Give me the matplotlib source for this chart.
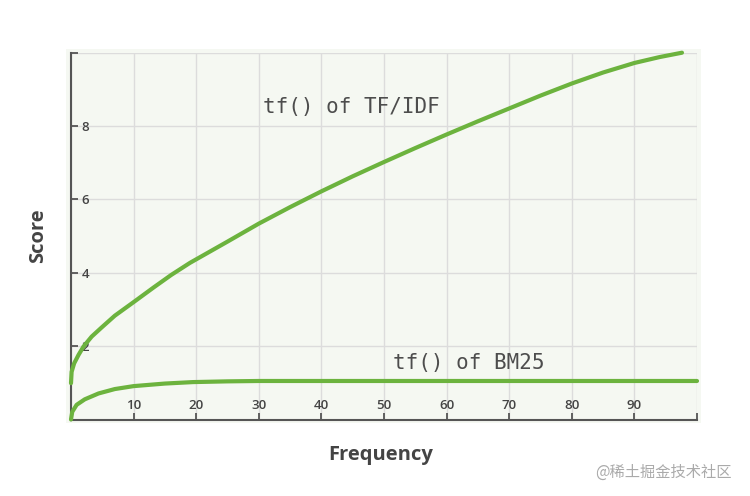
import matplotlib
matplotlib.use("Agg")
import matplotlib.pyplot as plt
from matplotlib.patches import Rectangle

# values
tfidf_freq = [0, 0.1, 0.5, 1.2, 2.0, 3.3, 4.9, 7.0, 10, 13.2, 16, 19, 25, 30, 35, 40, 45, 50,
              55, 60, 65, 70, 75, 80, 85, 90, 94, 97.6]
tfidf_score = [0.99, 1.30, 1.53, 1.76, 1.99, 2.26, 2.51, 2.83, 3.20, 3.60, 3.94, 4.27, 4.85, 5.34,
               5.79, 6.22, 6.63, 7.02, 7.40, 7.77, 8.13, 8.48, 8.83, 9.16, 9.46, 9.72, 9.88, 10.0]

bm25_freq = [0, 0.2, 0.9, 2.2, 4.4, 7.0, 10, 15, 19.5, 25, 30, 50, 70, 100]
bm25_score = [0.0, 0.21, 0.40, 0.55, 0.71, 0.83, 0.91, 0.98, 1.02, 1.04, 1.05, 1.05, 1.05, 1.05]

x_ticks = list(range(0, 101, 10))
x_labels = [""] + [str(v) for v in range(10, 100, 10)] + [""]
y_ticks = list(range(0, 11, 2))
y_labels = ["", "2", "4", "6", "8", ""]

green = "#6cb33e"
dark = "#444444"
bg = "#f5f8f2"

fig = plt.figure(figsize=(7.5, 4.96), dpi=100)
W, H = 750, 496
# light panel behind the plot, a bit larger than the axes
fig.patches.append(Rectangle((66 / W, 1 - 423 / H), (701 - 66) / W, (423 - 49) / H,
                             transform=fig.transFigure, facecolor=bg, edgecolor="none", zorder=-5))

ax = fig.add_axes([71 / W, 1 - 419.5 / H, 626 / W, 366.8 / H])
ax.set_facecolor(bg)
ax.set_xlim(0, 100)
ax.set_ylim(0, 10)

ax.grid(True, color="#dcdcdc", linewidth=1.0)
ax.set_axisbelow(True)

ax.plot(tfidf_freq, tfidf_score, color=green, linewidth=3.0, solid_capstyle="round",
        solid_joinstyle="round", clip_on=False, zorder=3)
ax.plot(bm25_freq, bm25_score, color=green, linewidth=3.0, solid_capstyle="round",
        solid_joinstyle="round", clip_on=False, zorder=3)

for s in ["top", "right"]:
    ax.spines[s].set_visible(False)
for s in ["left", "bottom"]:
    ax.spines[s].set_color("#555555")
    ax.spines[s].set_linewidth(1.5)

ax.set_xticks(x_ticks)
ax.set_xticklabels(x_labels)
ax.set_yticks(y_ticks)
ax.set_yticklabels(y_labels)
ax.tick_params(axis="both", direction="in", length=5, width=1.3, color="#555555",
               labelcolor=dark, labelsize=9.5)
ax.tick_params(axis="x", pad=-14.5)
ax.tick_params(axis="y", pad=-13)
for lab in ax.get_xticklabels() + ax.get_yticklabels():
    lab.set_family("Open Sans")
    lab.set_fontweight("semibold")

ax.text(30.7, 8.52, "tf() of TF/IDF", family="DejaVu Sans Mono", fontsize=15,
        color="#4d4d4d", va="center", ha="left")
ax.text(51.5, 1.53, "tf() of BM25", family="DejaVu Sans Mono", fontsize=15,
        color="#4d4d4d", va="center", ha="left")

fig.text(38 / W, 1 - 236 / H, "Score", rotation=90, family="Open Sans", fontweight="bold",
         fontsize=14.5, color=dark, ha="center", va="center")
fig.text(381 / W, 1 - 455 / H, "Frequency", family="Open Sans", fontweight="bold",
         fontsize=14.5, color=dark, ha="center", va="center")

fig.text(663 / W, 1 - 472 / H, "@稀土掘金技术社区", family=["Noto Sans CJK SC", "DejaVu Sans"],
         fontsize=11, color="#aaaaaa", ha="center", va="center")

fig.savefig("out.png", dpi=100)
